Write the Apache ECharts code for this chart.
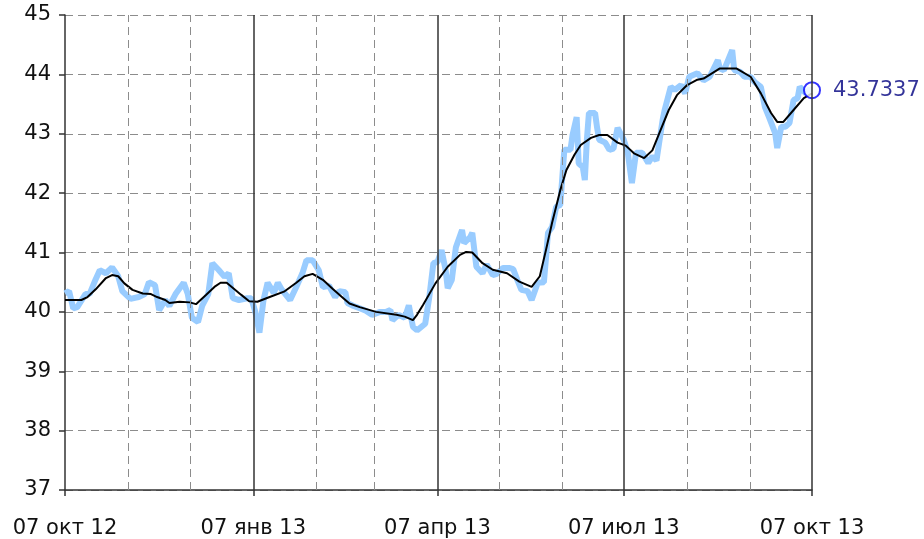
<!DOCTYPE html>
<html>
<head>
<meta charset="utf-8">
<script src="https://cdn.jsdelivr.net/npm/echarts@6/dist/echarts.min.js"></script>
<style>
  html, body { margin: 0; padding: 0; background: #fff; }
  #chart { width: 924px; height: 539px; }
</style>
</head>
<body>
<div id="chart"></div>
<script>
// days counted from 07 окт 12
const tickDays = [0, 92, 182, 273, 365]
const tickLabels = ['07 окт 12', '07 янв 13', '07 апр 13', '07 июл 13', '07 окт 13']
const monthDays = [31, 61, 123, 151, 212, 243, 304, 335]

// daily quote (light blue)
const rawDays = [0, 2, 4, 6, 10, 12, 15, 17, 20, 23, 26, 28, 32, 36, 39, 41, 44, 46, 49, 51, 54, 58, 60, 62, 65, 67, 70, 72, 75, 78, 80, 82, 85, 89, 91, 93, 95, 97, 99, 102, 104, 106, 110, 113, 116, 118, 121, 124, 126, 129, 132, 134, 137, 138, 141, 144, 147, 150, 154, 157, 159, 160, 163, 166, 168, 170, 172, 176, 178, 180, 182, 184, 186, 187, 189, 191, 194, 195, 198, 199, 201, 204, 206, 209, 211, 214, 217, 219, 221, 223, 226, 228, 231, 234, 235, 236, 238, 240, 242, 243, 244, 247, 248, 250, 251, 253, 254, 255, 256, 259, 260, 261, 264, 266, 268, 270, 273, 275, 277, 279, 282, 285, 287, 289, 292, 293, 296, 298, 301, 303, 305, 309, 312, 315, 319, 320, 322, 324, 326, 327, 330, 332, 335, 337, 340, 342, 344, 347, 348, 350, 352, 354, 356, 358, 359, 362, 364, 365]
const rawValues = [40.31, 40.35, 40.06, 40.08, 40.3, 40.3, 40.55, 40.7, 40.65, 40.75, 40.6, 40.35, 40.22, 40.25, 40.3, 40.5, 40.45, 40.03, 40.2, 40.1, 40.3, 40.49, 40.3, 39.9, 39.83, 40.1, 40.3, 40.82, 40.71, 40.59, 40.65, 40.23, 40.2, 40.23, 40.23, 40.0, 39.65, 40.2, 40.49, 40.32, 40.49, 40.37, 40.2, 40.42, 40.65, 40.87, 40.87, 40.7, 40.42, 40.44, 40.25, 40.35, 40.33, 40.15, 40.1, 40.06, 40.02, 39.95, 40.0, 40.0, 40.03, 39.86, 39.95, 39.9, 40.11, 39.75, 39.69, 39.8, 40.25, 40.82, 40.84, 41.04, 40.7, 40.4, 40.54, 41.09, 41.38, 41.16, 41.26, 41.33, 40.76, 40.65, 40.8, 40.62, 40.64, 40.74, 40.74, 40.72, 40.54, 40.37, 40.35, 40.2, 40.49, 40.5, 40.9, 41.33, 41.43, 41.77, 41.8, 42.27, 42.73, 42.73, 42.98, 43.28, 42.5, 42.44, 42.22, 42.9, 43.35, 43.35, 43.1, 42.9, 42.85, 42.73, 42.75, 43.1, 42.9, 42.68, 42.17, 42.68, 42.68, 42.51, 42.62, 42.55, 43.23, 43.4, 43.79, 43.74, 43.82, 43.68, 43.96, 44.02, 43.9, 43.96, 44.24, 44.1, 44.07, 44.24, 44.41, 44.07, 44.04, 43.96, 43.96, 43.87, 43.79, 43.45, 43.28, 43.01, 42.76, 43.12, 43.12, 43.18, 43.57, 43.6, 43.79, 43.68, 43.75, 43.7337]

// moving average (black)
const smoothDays = [0, 8, 11, 15, 20, 23, 26, 29, 33, 38, 42, 45, 49, 51, 56, 61, 64, 69, 73, 76, 79, 86, 90, 94, 100, 107, 113, 117, 121, 126, 131, 136, 139, 144, 152, 162, 166, 170, 172, 175, 181, 187, 193, 196, 199, 204, 209, 216, 222, 228, 232, 235, 238, 242, 245, 249, 252, 257, 261, 265, 270, 274, 278, 283, 287, 291, 295, 299, 304, 309, 312, 320, 328, 335, 340, 345, 348, 351, 356, 361, 365]
const smoothValues = [40.2, 40.2, 40.25, 40.38, 40.57, 40.62, 40.6, 40.48, 40.37, 40.31, 40.3, 40.25, 40.2, 40.15, 40.17, 40.16, 40.13, 40.29, 40.42, 40.49, 40.49, 40.29, 40.18, 40.17, 40.25, 40.34, 40.49, 40.6, 40.64, 40.54, 40.38, 40.23, 40.14, 40.08, 40.0, 39.95, 39.92, 39.86, 39.95, 40.12, 40.48, 40.76, 40.96, 41.01, 41.0, 40.82, 40.71, 40.65, 40.51, 40.42, 40.6, 41.04, 41.5, 42.05, 42.39, 42.65, 42.81, 42.93, 42.98, 42.98, 42.85, 42.8, 42.67, 42.59, 42.72, 43.06, 43.4, 43.65, 43.82, 43.91, 43.93, 44.1, 44.1, 43.96, 43.68, 43.35, 43.2, 43.2, 43.4, 43.6, 43.68]

const lastValue = 43.7337

const font = 'DejaVu Sans, Verdana, sans-serif'

const chart = echarts.init(document.getElementById('chart'))

// вертикальная сетка: пунктир по месяцам, сплошные по кварталам
const gridLines = [
  ...monthDays.map(d => ({ xAxis: d, lineStyle: { color: '#8c8c8c', type: [8, 5], width: 1 } })),
  ...tickDays.slice(1).map(d => ({ xAxis: d, lineStyle: { color: '#333', type: 'solid', width: 1.5 } }))
]

chart.setOption({
  animation: false,
  grid: { left: 65, right: 112, top: 15, bottom: 49 },
  xAxis: {
    type: 'value',
    min: 0,
    max: 365,
    axisLine: { show: true, lineStyle: { color: '#333', width: 1.5 } },
    axisTick: { show: true, customValues: tickDays, length: 6, lineStyle: { color: '#333', width: 1.5 } },
    axisLabel: {
      customValues: tickDays,
      formatter: v => tickLabels[tickDays.indexOf(v)] || '',
      color: '#111',
      fontFamily: font,
      fontSize: 21,
      margin: 28
    },
    splitLine: { show: false }
  },
  yAxis: {
    type: 'value',
    min: 37,
    max: 45,
    interval: 1,
    axisLine: { show: true, lineStyle: { color: '#333', width: 1.5 } },
    axisTick: { show: true, length: 6, lineStyle: { color: '#333', width: 1.5 } },
    axisLabel: { color: '#111', fontFamily: font, fontSize: 21, margin: 14 },
    splitLine: { show: true, lineStyle: { color: '#8c8c8c', type: [8, 5], width: 1 } }
  },
  series: [
    {
      type: 'line',
      data: [],
      z: 1,
      silent: true,
      markLine: { silent: true, symbol: 'none', label: { show: false }, animation: false, data: gridLines }
    },
    {
      name: 'raw',
      type: 'line',
      z: 2,
      showSymbol: false,
      lineStyle: { color: '#99ccff', width: 6 },
      data: rawDays.map((d, i) => [d, rawValues[i]])
    },
    {
      name: 'smooth',
      type: 'line',
      z: 3,
      showSymbol: false,
      lineStyle: { color: '#000', width: 2 },
      data: smoothDays.map((d, i) => [d, smoothValues[i]])
    },
    {
      name: 'last',
      type: 'scatter',
      z: 4,
      symbolSize: 16,
      itemStyle: { color: '#fff', borderColor: '#0000ff', borderWidth: 2 },
      label: {
        show: true,
        position: 'right',
        distance: 12,
        formatter: () => lastValue.toFixed(4),
        color: '#000080',
        fontFamily: font,
        fontSize: 21
      },
      data: [[365, lastValue]]
    }
  ]
})
</script>
</body>
</html>
